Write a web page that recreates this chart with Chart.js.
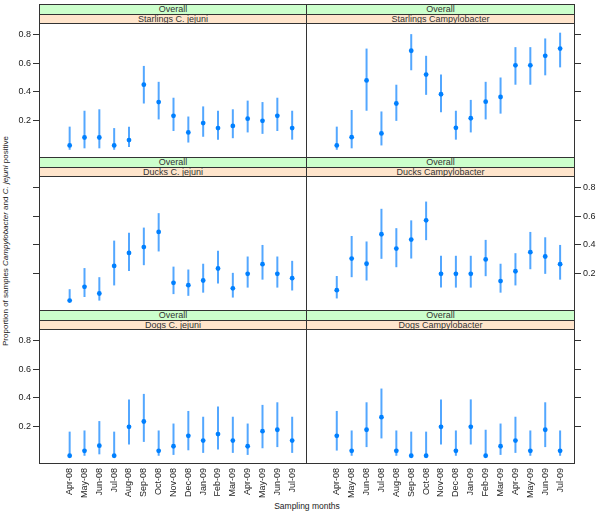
<!DOCTYPE html>
<html lang="en">
<head>
<meta charset="UTF-8" />
<title>Campylobacter proportions</title>
<script src="https://cdn.jsdelivr.net/npm/chart.js@4.4.1/dist/chart.umd.min.js"></script>
<style>
  body { margin: 0; background: #fff; font-family: "Liberation Sans", Arial, sans-serif; }
  #wrap { position: relative; width: 600px; height: 516px; overflow: hidden; }
  canvas { position: absolute; left: 0; top: 0; }
  .strip { position: absolute; box-sizing: border-box; border: 1px solid #333; font-size: 9px;
           line-height: 8px; text-align: center; color: #333; white-space: nowrap; }
  .green { background: #ccffcc; height: 11px; }
  .orange { background: #ffe5cc; height: 10px; }
  #ylab { position: absolute; left: -144px; top: 236px; width: 300px; height: 10px; line-height: 10px;
          font-size: 8px; text-align: center; color: #222; transform: rotate(-90deg); white-space: nowrap; }
  #xlab { position: absolute; left: 207px; top: 501px; width: 200px; font-size: 8.5px; text-align: center; color: #222; }
</style>
</head>
<body>
<div id="wrap">
  <div id="ylab">Proportion of samples <i>Campylobacter</i> and <i>C. jejuni</i> positive</div>
  <div id="xlab">Sampling months</div>
</div>
<script>
const months = ['Apr-08','May-08','Jun-08','Jul-08','Aug-08','Sep-08','Oct-08','Nov-08',
                'Dec-08','Jan-09','Feb-09','Mar-09','Apr-09','May-09','Jun-09','Jul-09'];
const yTicks = [0.2, 0.4, 0.6, 0.8];

// Starlings
const starlingsJejuni     = [0.03,0.085,0.085,0.03,0.067,0.45,0.33,0.235,0.12,0.185,0.15,0.165,0.215,0.20,0.235,0.15];
const starlingsJejuniLow  = [0,0.01,0.01,0,0.02,0.32,0.21,0.13,0.05,0.09,0.07,0.08,0.12,0.11,0.13,0.07];
const starlingsJejuniHigh = [0.16,0.27,0.28,0.15,0.16,0.58,0.47,0.36,0.23,0.30,0.27,0.28,0.34,0.33,0.36,0.27];
const starlingsCampy      = [0.03,0.087,0.48,0.113,0.32,0.685,0.52,0.384,0.152,0.218,0.333,0.365,0.584,0.584,0.65,0.70];
const starlingsCampyLow   = [0,0.01,0.27,0.03,0.2,0.55,0.38,0.26,0.07,0.12,0.21,0.25,0.45,0.45,0.515,0.57];
const starlingsCampyHigh  = [0.16,0.275,0.70,0.265,0.45,0.80,0.65,0.52,0.27,0.345,0.47,0.50,0.71,0.71,0.77,0.81];

// Ducks
const ducksJejuni     = [0.015,0.11,0.064,0.255,0.345,0.385,0.49,0.138,0.122,0.154,0.237,0.10,0.2,0.267,0.2,0.17];
const ducksJejuniLow  = [0.01,0.04,0.015,0.12,0.22,0.26,0.355,0.06,0.048,0.07,0.133,0.036,0.105,0.16,0.105,0.085];
const ducksJejuniHigh = [0.094,0.24,0.177,0.43,0.485,0.52,0.62,0.25,0.23,0.27,0.36,0.207,0.32,0.40,0.32,0.29];
const ducksCampy      = [0.087,0.306,0.27,0.474,0.375,0.437,0.57,0.2,0.2,0.2,0.30,0.15,0.218,0.35,0.32,0.267];
const ducksCampyLow   = [0.03,0.177,0.154,0.304,0.246,0.306,0.433,0.105,0.105,0.105,0.184,0.07,0.12,0.232,0.2,0.16];
const ducksCampyHigh  = [0.185,0.462,0.424,0.65,0.516,0.57,0.70,0.325,0.325,0.325,0.435,0.27,0.343,0.49,0.453,0.40];

// Dogs
const dogsJejuni     = [0,0.034,0.07,0,0.2,0.237,0.034,0.066,0.138,0.105,0.15,0.105,0.066,0.17,0.18,0.105];
const dogsJejuniLow  = [0,0,0.01,0,0.078,0.096,0,0.006,0.038,0.02,0.043,0.02,0.006,0.052,0.06,0.02];
const dogsJejuniHigh = [0.167,0.175,0.24,0.167,0.39,0.428,0.175,0.223,0.31,0.27,0.34,0.27,0.223,0.352,0.37,0.27];
const dogsCampy      = [0.138,0.034,0.18,0.267,0.034,0,0,0.2,0.034,0.2,0,0.066,0.105,0.034,0.18,0.034];
const dogsCampyLow   = [0.036,0,0.06,0.12,0,0,0,0.078,0,0.078,0,0.006,0.02,0,0.06,0];
const dogsCampyHigh  = [0.31,0.175,0.37,0.465,0.175,0.167,0.167,0.39,0.175,0.39,0.18,0.223,0.27,0.175,0.37,0.175];

// panel rows: top of plot area / bottom of plot area
const rowTop = [24, 177, 330];
const rowBottom = [157, 310, 463];

const framePlugin = {
    id: 'frame',
    afterDraw(c) {
        const a = c.chartArea, ctx = c.ctx;
        ctx.save();
        ctx.strokeStyle = '#333';
        ctx.lineWidth = 1;
        ctx.strokeRect(a.left - 0.5, a.top - 0.5, a.right - a.left, a.bottom - a.top + 1);
        ctx.restore();
    }
};

function addStrip(cls, text, left, top, width) {
    const d = document.createElement('div');
    d.className = 'strip ' + cls;
    d.style.left = left + 'px';
    d.style.top = top + 'px';
    d.style.width = width + 'px';
    d.textContent = text;
    document.getElementById('wrap').appendChild(d);
}

function makePanel(title, row, col, vals, lo, hi) {
    const canvas = document.createElement('canvas');
    canvas.width = 600;
    canvas.height = 516;
    document.getElementById('wrap').appendChild(canvas);

    const s = rowTop[row] - 20;
    const sx = col === 0 ? 39 : 306;
    const sw = col === 0 ? 268 : 269;
    addStrip('green', 'Overall', sx, s, sw);
    addStrip('orange', title, sx, s + 10, sw);

    const showLabels = col === 0 ? row !== 1 : row === 1;
    const bottomAxis = row === 2;

    new Chart(canvas, {
        type: 'bar',
        data: {
            datasets: [{
                type: 'line',
                data: vals.map((v, i) => ({ x: i, y: v })),
                showLine: false,
                pointRadius: 2.4,
                pointBorderWidth: 0,
                pointBackgroundColor: '#0080ff',
                order: 0
            }, {
                type: 'bar',
                data: vals.map((v, i) => ({ x: i, y: [lo[i], hi[i]] })),
                backgroundColor: 'rgba(40,145,255,0.8)',
                borderWidth: 0,
                inflateAmount: 0,
                barThickness: 2,
                order: 1
            }]
        },
        options: {
            responsive: false,
            animation: false,
            events: [],
            layout: {
                padding: {
                    left: col === 0 ? 0 : 307,
                    right: col === 0 ? 293 : 0,
                    top: rowTop[row],
                    bottom: bottomAxis ? 0 : 516 - rowBottom[row]
                }
            },
            plugins: { legend: { display: false }, tooltip: { enabled: false } },
            scales: {
                x: {
                    type: 'linear',
                    min: -2,
                    max: 16,
                    offset: false,
                    display: bottomAxis,
                    afterBuildTicks: sc => { sc.ticks = months.map((m, i) => ({ value: i })); },
                    afterFit: sc => { sc.height = bottomAxis ? 516 - rowBottom[2] : 0; },
                    grid: { display: false, drawTicks: false, offset: false },
                    border: { display: false },
                    ticks: {
                        autoSkip: false,
                        minRotation: 90,
                        maxRotation: 90,
                        padding: 5,
                        color: '#222',
                        font: { size: 9, family: '"Liberation Sans", Arial, sans-serif' },
                        callback: v => months[v]
                    }
                },
                y: {
                    type: 'linear',
                    position: col === 0 ? 'left' : 'right',
                    min: -0.05,
                    max: 0.87,
                    beginAtZero: false,
                    afterBuildTicks: sc => { sc.ticks = yTicks.map(v => ({ value: v })); },
                    afterFit: sc => { sc.width = col === 0 ? 40 : 25; },
                    grid: { drawOnChartArea: false, drawTicks: true, tickLength: col === 0 ? 7 : 6, color: '#333' },
                    border: { display: false },
                    ticks: {
                        padding: 2,
                        color: '#222',
                        font: { size: 9, family: '"Liberation Sans", Arial, sans-serif' },
                        callback: v => showLabels ? v.toFixed(1) : ''
                    }
                }
            }
        },
        plugins: [framePlugin]
    });
}

makePanel('Starlings C. jejuni', 0, 0, starlingsJejuni, starlingsJejuniLow, starlingsJejuniHigh);
makePanel('Starlings Campylobacter', 0, 1, starlingsCampy, starlingsCampyLow, starlingsCampyHigh);
makePanel('Ducks C. jejuni', 1, 0, ducksJejuni, ducksJejuniLow, ducksJejuniHigh);
makePanel('Ducks Campylobacter', 1, 1, ducksCampy, ducksCampyLow, ducksCampyHigh);
makePanel('Dogs C. jejuni', 2, 0, dogsJejuni, dogsJejuniLow, dogsJejuniHigh);
makePanel('Dogs Campylobacter', 2, 1, dogsCampy, dogsCampyLow, dogsCampyHigh);
</script>
</body>
</html>
